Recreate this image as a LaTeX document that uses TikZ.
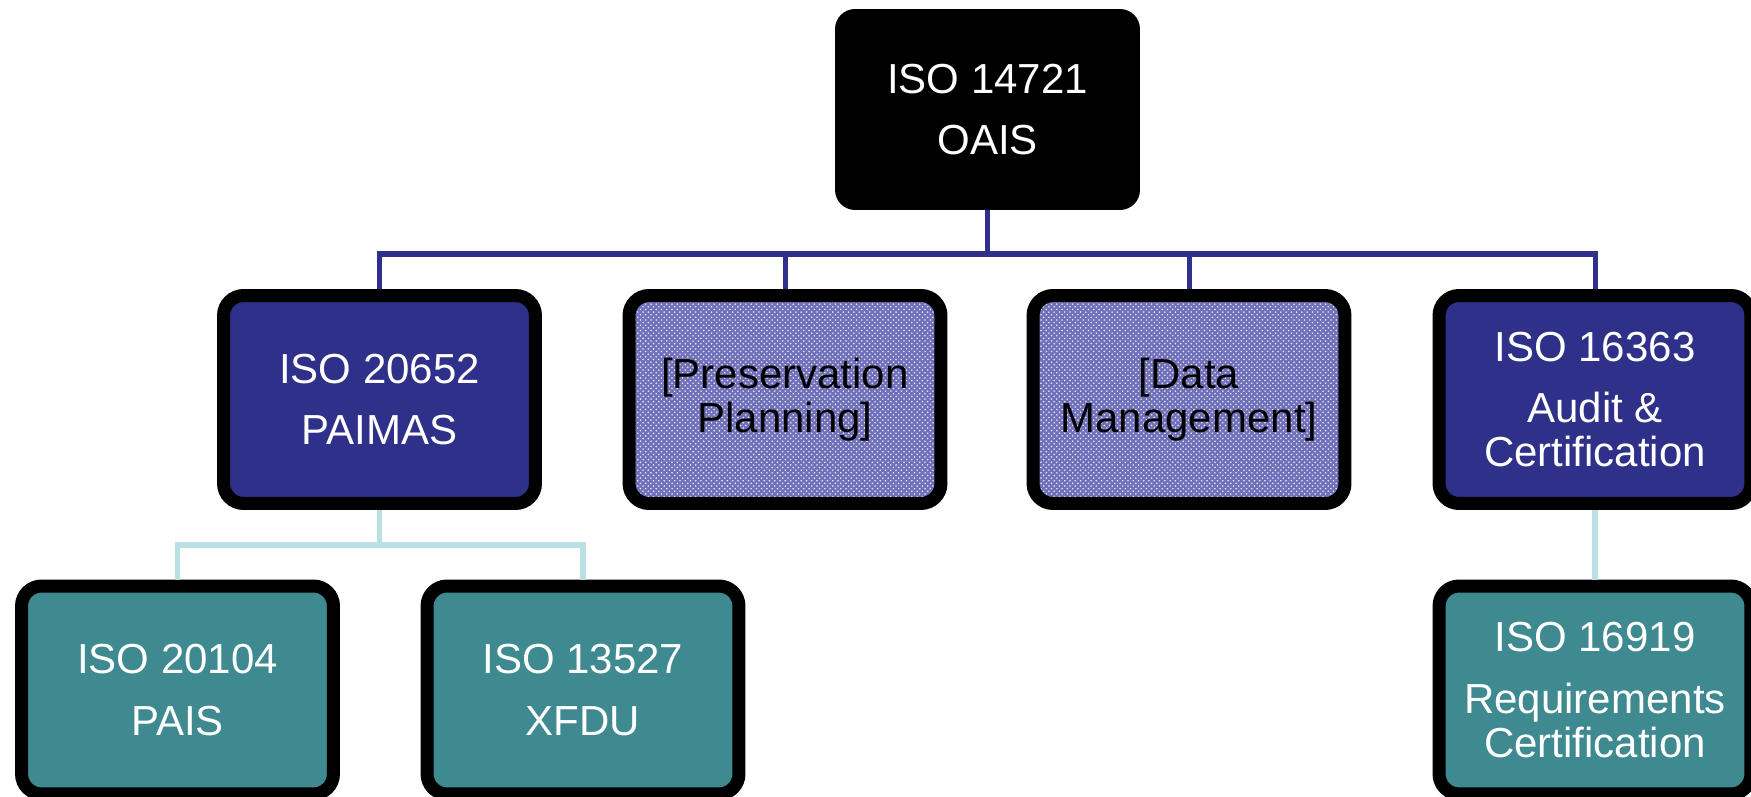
\documentclass[tikz,border=0pt]{standalone}
\usepackage{fontspec}
\setmainfont{Liberation Sans}
\usetikzlibrary{patterns}
\definecolor{navy}{RGB}{46,48,137}
\definecolor{tealbox}{RGB}{62,138,144}
\definecolor{lightline}{RGB}{185,224,228}
\definecolor{patbase}{RGB}{112,112,186}
\begin{document}
\begin{tikzpicture}[x=0.02cm,y=-0.02cm,
  box/.style={draw=black, line width=7.4pt, rounded corners=0.4cm,
    minimum width=6.24cm, minimum height=4.16cm, text=white, align=center,
    font=\fontsize{23.9}{25}\selectfont, inner sep=0pt},
  navybox/.style={box, fill=navy},
  tealnode/.style={box, fill=tealbox},
  patbox/.style={box, text=black, preaction={fill=patbase},
    pattern=crosshatch dots, pattern color=white!85!patbase},
  topbox/.style={fill=black, rounded corners=0.4cm, minimum width=6.1cm,
    minimum height=4.02cm, text=white, align=center,
    font=\fontsize{23.9}{25}\selectfont, inner sep=0pt},
  busline/.style={draw=navy, line width=2.85pt},
  subline/.style={draw=lightline, line width=3.2pt}]
\useasboundingbox (0,0) rectangle (1751,797);
\clip (0,0) rectangle (1751,797);

\node[topbox] (oais) at (987.5,109.5) {ISO 14721\\[10pt]OAIS};
\node[navybox] (paimas) at (379.5,399.5) {ISO 20652\\[10pt]PAIMAS};
\node[patbox] (pres) at (785,399.5) {{[}Preservation\\Planning]};
\node[patbox] (data) at (1189,399.5) {{[}Data\\Management]};
\node[navybox] (audit) at (1595,399.5) {ISO 16363\\[10pt]Audit \&\\Certification};
\node[tealnode] (pais) at (177.5,690) {ISO 20104\\[10pt]PAIS};
\node[tealnode] (xfdu) at (583,690) {ISO 13527\\[10pt]XFDU};
\node[tealnode] (req) at (1595,690) {ISO 16919\\[10pt]Requirements\\Certification};

\coordinate (bus) at (987.5,254);
\coordinate (sub) at (379.5,545);
\draw[busline] (oais.south) -- (oais.south |- bus);
\draw[busline] (paimas.north) -- (paimas.north |- bus) -- (audit.north |- bus) -- (audit.north);
\draw[busline] (pres.north) -- (pres.north |- bus);
\draw[busline] (data.north) -- (data.north |- bus);
\draw[subline] (paimas.south) -- (paimas.south |- sub);
\draw[subline] (pais.north) -- (pais.north |- sub) -- (xfdu.north |- sub) -- (xfdu.north);
\draw[subline] (audit.south) -- (req.north);
\end{tikzpicture}
\end{document}
